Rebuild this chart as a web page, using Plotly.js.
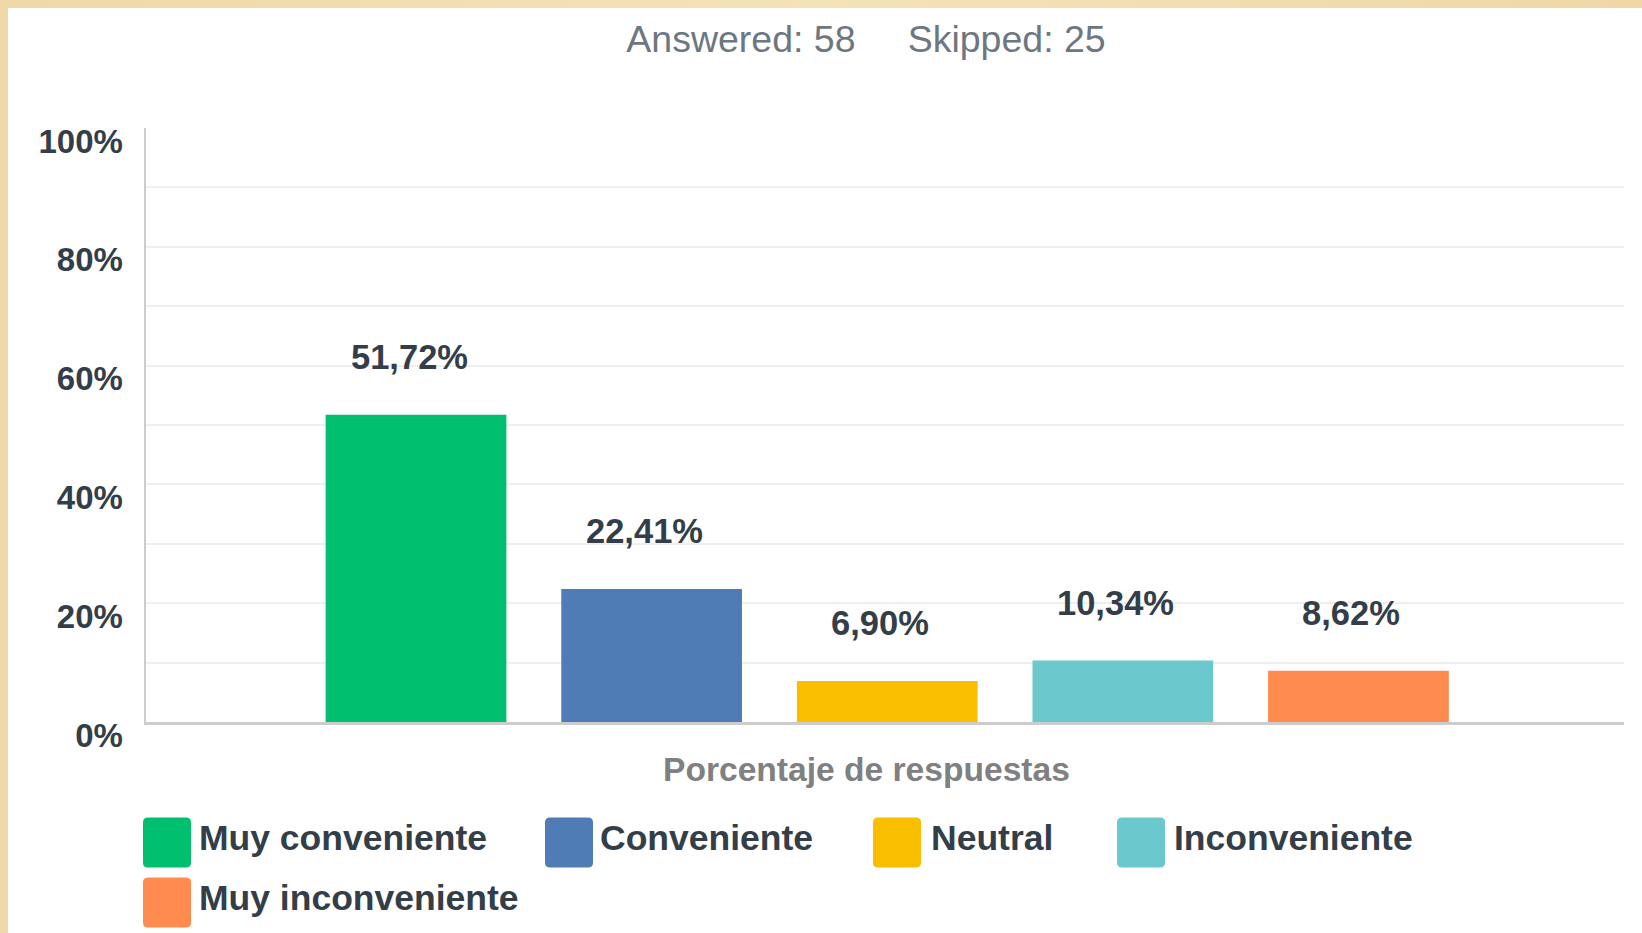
<!DOCTYPE html>
<html>
<head>
<meta charset="utf-8">
<script src="https://cdn.plot.ly/plotly-3.0.1.min.js"></script>
<style>
html, body { margin: 0; padding: 0; width: 1642px; height: 933px; overflow: hidden;
  background: linear-gradient(90deg, #f0d9a8, #f4e2b8 50%, #efd8a6); }
#chart { position: absolute; left: 8px; top: 8px; width: 1634px; height: 925px; background: #ffffff; }
</style>
</head>
<body>
<div id="chart"></div>
<script>
// ---- data ----
const categories = ['Muy conveniente', 'Conveniente', 'Neutral', 'Inconveniente', 'Muy inconveniente'];
const values = [51.72, 22.41, 6.90, 10.34, 8.62];
const valueLabels = ['51,72%', '22,41%', '6,90%', '10,34%', '8,62%'];
const colors = ['#00bf6f', '#507cb6', '#f9be00', '#6bc8cd', '#ff8b4f'];
const yTickVals = [0, 20, 40, 60, 80, 100];
const yTickText = ['0%', '20%', '40%', '60%', '80%', '100%'];
const yGridVals = [10, 20, 30, 40, 50, 60, 70, 80, 90];
const answered = 58;
const skipped = 25;
const xTitle = 'Porcentaje de respuestas';

// ---- layout geometry (page pixels) ----
const W = 1634, H = 925, OFF = 8;
const M = { l: 138, r: 18, t: 120, b: 211 };
const PW = W - M.l - M.r, PH = H - M.t - M.b;
const px2x = p => (p - OFF - M.l) / PW;
const py2y = p => (H - M.b - (p - OFF)) / PH;

// legend slots (page pixels): swatch centre and text start
const legendSlots = [
  { sx: 167, sy: 842.5, tx: 197 },
  { sx: 569, sy: 842.5, tx: 598 },
  { sx: 897, sy: 842.5, tx: 929 },
  { sx: 1141, sy: 842.5, tx: 1172 },
  { sx: 167, sy: 902.5, tx: 197 }
];

const FONT = 'Liberation Sans, Arial, sans-serif';
const DARK = '#333e48';

const traces = categories.map((c, i) => ({
  type: 'bar',
  name: c,
  x: [i],
  y: [values[i]],
  width: [0.767],
  marker: { color: colors[i], line: { width: 0 } },
  hoverinfo: 'skip',
  showlegend: false
}));

const annotations = values.map((v, i) => ({
  x: i, y: v, xref: 'x', yref: 'y',
  text: valueLabels[i], showarrow: false,
  xanchor: 'center', yanchor: 'middle',
  yshift: 58, xshift: -7,
  font: { family: FONT, size: 34.5, color: DARK, weight: 'bold' }
}));

annotations.push({
  x: px2x(866.5), y: py2y(769.5), xref: 'paper', yref: 'paper',
  text: xTitle, showarrow: false, xanchor: 'center', yanchor: 'middle',
  font: { family: FONT, size: 33.6, color: '#808080', weight: 'bold' }
});

const rr = 'M -19,-25 L 19,-25 Q 24,-25 24,-20 L 24,20 Q 24,25 19,25 L -19,25 Q -24,25 -24,20 L -24,-20 Q -24,-25 -19,-25 Z';
const shapes = [];
categories.forEach((c, i) => {
  const s = legendSlots[i];
  shapes.push({
    type: 'path', xref: 'paper', yref: 'paper',
    xsizemode: 'pixel', ysizemode: 'pixel',
    xanchor: px2x(s.sx), yanchor: py2y(s.sy),
    path: rr, fillcolor: colors[i], line: { width: 0 }
  });
  annotations.push({
    x: px2x(s.tx), y: py2y(s.sy - 4.5), xref: 'paper', yref: 'paper',
    text: c, showarrow: false, xanchor: 'left', yanchor: 'middle',
    font: { family: FONT, size: 35.5, color: DARK, weight: 'bold' }
  });
});

const layout = {
  width: W, height: H,
  margin: M,
  paper_bgcolor: '#ffffff',
  plot_bgcolor: '#ffffff',
  barmode: 'overlay',
  showlegend: false,
  title: {
    text: 'Answered: ' + answered + '&nbsp;&nbsp;&nbsp;&nbsp;&nbsp;Skipped: ' + skipped,
    xref: 'container', yref: 'container',
    x: (866 - OFF) / W, y: 1 - (38.7 - OFF) / H,
    xanchor: 'center', yanchor: 'middle',
    font: { family: FONT, size: 37.5, color: '#6d7780' }
  },
  xaxis: {
    type: 'linear',
    range: [-1.146, 5.127],
    showticklabels: false, showgrid: false, zeroline: false,
    showline: true, linecolor: '#cccccc', linewidth: 3,
    ticks: '', fixedrange: true
  },
  yaxis: {
    range: [0, 100],
    tickmode: 'array', tickvals: yTickVals, ticktext: yTickText,
    showgrid: false, zeroline: false,
    showline: true, linecolor: '#cccccc', linewidth: 2.5,
    ticks: '', ticklabelshift: 13, ticklabelstandoff: 14,
    tickfont: { family: FONT, size: 33, color: DARK, weight: 'bold' },
    minor: { tickmode: 'array', tickvals: yGridVals, showgrid: true, gridcolor: '#efefef', gridwidth: 2, ticks: '' },
    fixedrange: true
  },
  shapes: shapes,
  annotations: annotations
};

Plotly.newPlot('chart', traces, layout, { displayModeBar: false, staticPlot: true });
</script>
</body>
</html>
